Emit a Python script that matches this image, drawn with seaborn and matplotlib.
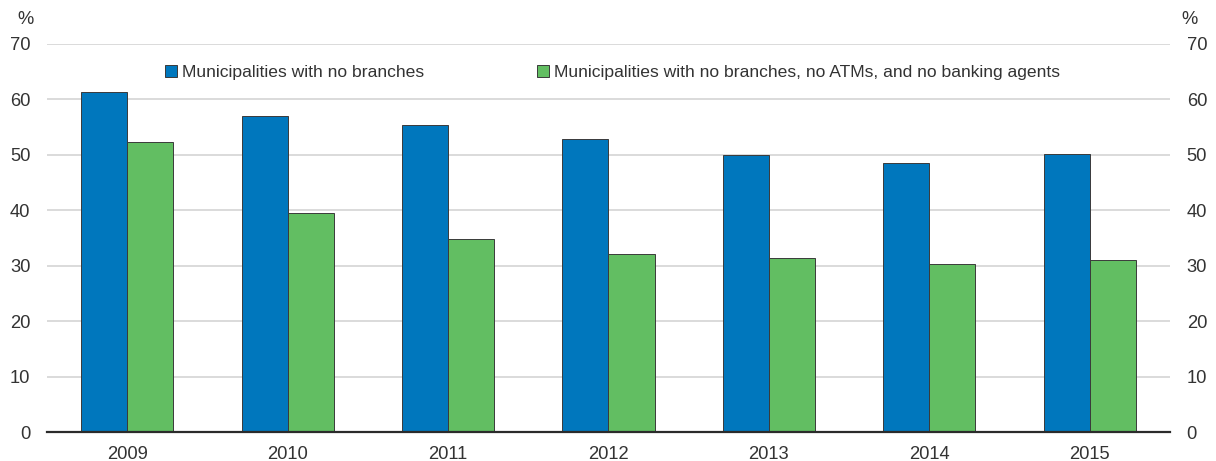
import matplotlib
matplotlib.use("Agg")
import matplotlib.pyplot as plt
from matplotlib import font_manager
import seaborn as sns
import pandas as pd
import numpy as np

years = ["2009", "2010", "2011", "2012", "2013", "2014", "2015"]
no_branches = [61.4, 57.1, 55.3, 52.9, 50.0, 48.5, 50.1]
no_access_points = [52.3, 39.5, 34.8, 32.1, 31.4, 30.3, 31.0]
series_names = [
    "Municipalities with no branches",
    "Municipalities with no branches, no ATMs, and no banking agents",
]
yticks = [0, 10, 20, 30, 40, 50, 60, 70]

df = pd.DataFrame({
    "year": years * 2,
    "value": no_branches + no_access_points,
    "series": [series_names[0]] * len(years) + [series_names[1]] * len(years),
})

sns.set_theme(style="white")
available = {f.name for f in font_manager.fontManager.ttflist}
family = "Liberation Sans Narrow" if "Liberation Sans Narrow" in available else "Liberation Sans"
plt.rcParams["font.family"] = [family, "DejaVu Sans"]

W, H = 1216, 461
fig = plt.figure(figsize=(W / 100, H / 100), dpi=100)
left, right, bottom, top = 47, 1170, 432, 44
ax = fig.add_axes([left / W, 1 - bottom / H, (right - left) / W, (bottom - top) / H])

palette = ["#0077BD", "#62BE62"]
sns.barplot(data=df, x="year", y="value", hue="series", palette=palette,
            width=0.575, gap=0, edgecolor="#3a3a3a", linewidth=0.7,
            saturation=1, ax=ax, legend=True)

ax.set_xlim(-0.5, len(years) - 0.5)
ax.set_ylim(0, 70)
ax.set_yticks(yticks)
ax.set_xlabel("")
ax.set_ylabel("")
ax.grid(axis="y", color="#d4d4d4", linewidth=1.2)
ax.set_axisbelow(True)
for side in ["left", "right", "top"]:
    ax.spines[side].set_visible(False)
ax.spines["bottom"].set_color("#2b2b2b")
ax.spines["bottom"].set_linewidth(1.6)

txt = "#333333"
fs = 13.2
ax.tick_params(axis="y", which="both", length=0, labelleft=True, labelright=True,
               labelsize=fs, labelcolor=txt, pad=12)
ax.tick_params(axis="x", which="major", length=0, labelsize=fs, labelcolor=txt, pad=10)
ax.set_xticks(np.arange(-0.5, len(years), 1.0), minor=True)
ax.tick_params(axis="x", which="minor", direction="in", length=5, width=1.4, color="#2b2b2b")

fig.text(25 / W, 1 - 20 / H, "%", ha="center", va="center", fontsize=fs, color=txt)
fig.text(1190 / W, 1 - 20 / H, "%", ha="center", va="center", fontsize=fs, color=txt)

handles, labels = ax.get_legend_handles_labels()
ax.legend(handles, labels, ncol=2, loc="upper left", bbox_to_anchor=(165 / W, 1 - 65 / H),
          bbox_transform=fig.transFigure, frameon=False, fontsize=12.6,
          handlelength=0.7, handleheight=0.7, handletextpad=0.3, columnspacing=6.4,
          labelcolor=txt, borderaxespad=0, borderpad=0)

fig.savefig("out.png", dpi=100)
